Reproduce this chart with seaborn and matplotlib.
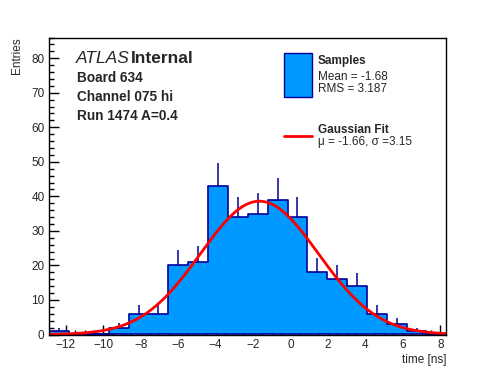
import numpy as np
import pandas as pd
import seaborn as sns
import matplotlib.pyplot as plt
from matplotlib.patches import Rectangle
from matplotlib.lines import Line2D
from matplotlib.ticker import MultipleLocator

# histogram: 20 bins between these edges
BIN_LO = -12.88
BIN_HI = 8.32
counts = [1, 0, 0, 2, 6, 6, 20, 21, 43, 34, 35, 39, 34, 18, 16, 14, 6, 3, 1, 0]

# gaussian fit parameters (from the fit box)
fit_mu = -1.66
fit_sigma = 3.15
fit_amp = 38.6

info_lines = ["Board 634", "Channel 075 hi", "Run 1474 A=0.4"]

FILL = "#0099ff"
EDGE = "#000099"

sns.set_style("ticks")
plt.rcParams["font.family"] = ["Liberation Sans", "DejaVu Sans"]

W, H = 496, 372
fig = plt.figure(figsize=(W / 100, H / 100), dpi=100)
ax = fig.add_axes([49.3 / W, 1 - 334.5 / H, 397 / W, 297 / H])


def px(x, y):
    return x / W, 1 - y / H


edges = np.linspace(BIN_LO, BIN_HI, len(counts) + 1)
centers = (edges[:-1] + edges[1:]) / 2
df = pd.DataFrame({"t": centers, "n": counts})

sns.histplot(data=df, x="t", weights="n", bins=list(edges), element="step", fill=True,
             facecolor=FILL, edgecolor=EDGE, alpha=1, linewidth=1.2, ax=ax)

# upper half of the poisson error bars (lower half hidden under fill)
nz = df[df["n"] > 0]
ax.vlines(nz["t"], nz["n"], nz["n"] + np.sqrt(nz["n"]), color=EDGE, lw=1.1)

xs = np.linspace(BIN_LO, BIN_HI, 300)
fit = pd.DataFrame({"t": xs,
                    "y": fit_amp * np.exp(-0.5 * ((xs - fit_mu) / fit_sigma) ** 2)})
sns.lineplot(data=fit, x="t", y="y", color="red", lw=2, ax=ax)

ax.set_xlim(BIN_LO, BIN_HI)
ax.set_ylim(0, 86)
ax.xaxis.set_major_locator(MultipleLocator(2))
ax.xaxis.set_minor_locator(MultipleLocator(0.5))
ax.yaxis.set_major_locator(MultipleLocator(10))
ax.yaxis.set_minor_locator(MultipleLocator(2))
ax.tick_params(which="both", direction="in", labelsize=8.5, width=1, color="black")
ax.tick_params(which="major", length=7)
ax.tick_params(which="minor", length=3.5)
for s in ax.spines.values():
    s.set_visible(True)
    s.set_linewidth(1)
    s.set_color("black")

ax.set_xlabel("time [ns]", loc="right", fontsize=8.5, labelpad=2)
ax.set_ylabel("Entries", loc="top", fontsize=8.5, labelpad=6)

# ATLAS label block
fig.text(*px(76, 63), "ATLAS", style="italic", fontsize=12.5, va="baseline")
fig.text(*px(131, 63), "Internal", weight="bold", fontsize=12.5, va="baseline")
for i, line in enumerate(info_lines):
    fig.text(*px(77, 82 + 19 * i), line, weight="bold", fontsize=9.8, va="baseline")

# legend drawn by hand, ROOT style
fig.add_artist(Rectangle(px(283.5, 97), 28.5 / W, 44 / H, transform=fig.transFigure,
                         facecolor=FILL, edgecolor=EDGE, lw=1))
fig.add_artist(Line2D([283.5 / W, 312 / W], [1 - 136 / H] * 2, transform=fig.transFigure,
                      color="red", lw=2))
fig.text(*px(318, 64), "Samples", weight="bold", fontsize=8.5, va="baseline")
fig.text(*px(318, 80), "Mean = -1.68", fontsize=8.5, va="baseline")
fig.text(*px(318, 92), "RMS = 3.187", fontsize=8.5, va="baseline")
fig.text(*px(318, 133), "Gaussian Fit", weight="bold", fontsize=8.5, va="baseline")
fig.text(*px(318, 145), "\u03bc = -1.66, \u03c3 =3.15", fontsize=8.5, va="baseline")

fig.savefig("out.png", dpi=100)
